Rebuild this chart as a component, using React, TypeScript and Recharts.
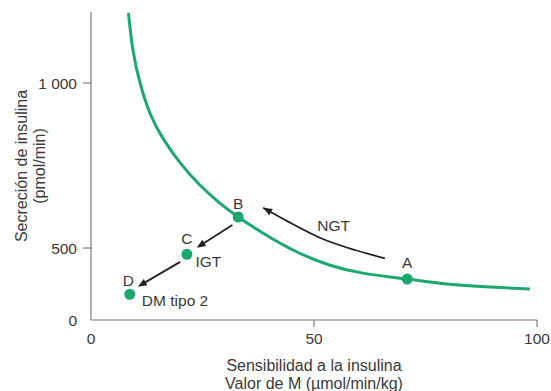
import React from 'react';
import {
  ComposedChart,
  Line,
  Scatter,
  XAxis,
  YAxis,
  ReferenceLine,
} from 'recharts';

// ---- data ----
const xTicks = [0, 50, 100];
const yTickValues = [282, 500, 1000];
const yTickLabels = ['0', '500', '1 000'];

const curveX = [8.4, 9.4, 11.0, 13.2, 16.1, 20.0, 24.4, 28.9, 33.0, 38.6, 46.2, 53.6, 61.0, 70.9, 79.8, 89.5, 98.4];
const curveY = [1212, 1100, 1000, 909, 833, 758, 691, 636, 594, 545, 488, 448, 424, 406, 391, 382, 376];

const pointNames = ['A', 'B', 'C', 'D'];
const pointX = [70.9, 33.0, 21.5, 8.7];
const pointY = [406, 594, 481, 360];

const ngtX = [38.6, 44.2, 51.7, 59.2, 65.9];
const ngtY = [622, 580, 529, 494, 469];

const arrowFromX = [31.7, 20.0];
const arrowFromY = [570, 458];
const arrowToX = [23.7, 10.5];
const arrowToY = [501, 383];

const labelTexts = ['A', 'B', 'C', 'D', 'NGT', 'IGT', 'DM tipo 2'];
const labelX = [70.9, 33.0, 21.5, 8.4, 54.4, 26.3, 11.4];
const labelY = [455, 636, 529, 403, 567, 459, 342];
const labelAnchor = ['middle', 'middle', 'middle', 'middle', 'middle', 'middle', 'start'];

// ---- derived tables ----
const curveData = curveX.map((x, i) => ({ x, y: curveY[i] }));
const pointData = pointX.map((x, i) => ({ x, y: pointY[i], name: pointNames[i] }));
const ngtData = ngtX.map((x, i) => ({ x, y: ngtY[i] }));
const labelData = labelX.map((x, i) => ({ x, y: labelY[i], text: labelTexts[i], anchor: labelAnchor[i] }));

const GREEN = '#1aa86f';
const TEXT = '#3a3a3a';
const AXIS = '#7a7a7a';
const ARROW = '#222222';
const FONT = '"Liberation Sans", Arial, Helvetica, sans-serif';

const arrowHead = (x1: number, y1: number, x2: number, y2: number) => {
  const dx = x2 - x1;
  const dy = y2 - y1;
  const len = Math.sqrt(dx * dx + dy * dy) || 1;
  const ux = dx / len;
  const uy = dy / len;
  const L = 9;
  const W = 3.6;
  const bx = x2 - ux * L;
  const by = y2 - uy * L;
  return `${x2},${y2} ${bx - uy * W},${by + ux * W} ${bx + uy * W},${by - ux * W}`;
};

const ArrowShape = (props: any) => {
  const { x1, y1, x2, y2 } = props;
  const dx = x2 - x1;
  const dy = y2 - y1;
  const len = Math.sqrt(dx * dx + dy * dy) || 1;
  const ex = x2 - (dx / len) * 6;
  const ey = y2 - (dy / len) * 6;
  return (
    <g>
      <line x1={x1} y1={y1} x2={ex} y2={ey} stroke={ARROW} strokeWidth={1.8} />
      <polygon points={arrowHead(x1, y1, x2, y2)} fill={ARROW} />
    </g>
  );
};

const HeadOnly = (props: any) => {
  const { x1, y1, x2, y2 } = props;
  return <polygon points={arrowHead(x1, y1, x2, y2)} fill={ARROW} />;
};

const YTick = (props: any) => {
  const { x, y, payload, index } = props;
  const isZero = payload.value === yTickValues[0];
  return (
    <g>
      {!isZero && <line x1={x + 6} y1={y} x2={x + 14} y2={y} stroke={AXIS} strokeWidth={1.2} />}
      <text x={x} y={y} dy="0.36em" textAnchor="end" fill={TEXT} fontSize={15.5} fontFamily={FONT}>
        {yTickLabels[yTickValues.indexOf(payload.value)] ?? String(index)}
      </text>
    </g>
  );
};

const XTick = (props: any) => {
  const { x, y, payload } = props;
  const isZero = payload.value === xTicks[0];
  return (
    <g>
      {!isZero && <line x1={x} y1={y - 9} x2={x} y2={y - 2} stroke={AXIS} strokeWidth={1.2} />}
      <text x={x} y={y} dy="0.95em" textAnchor="middle" fill={TEXT} fontSize={15.5} fontFamily={FONT}>
        {payload.value}
      </text>
    </g>
  );
};

const XTitle = (props: any) => {
  const { viewBox } = props;
  const cx = viewBox.x + viewBox.width / 2;
  return (
    <text textAnchor="middle" fill={TEXT} fontSize={16} fontFamily={FONT}>
      <tspan x={cx} y={371}>Sensibilidad a la insulina</tspan>
      <tspan x={cx} y={389}>Valor de M (µmol/min/kg)</tspan>
    </text>
  );
};

const YTitle = (props: any) => {
  const { viewBox } = props;
  const cy = viewBox.y + viewBox.height / 2;
  return (
    <g>
      <text transform={`translate(27, ${cy}) rotate(-90)`} textAnchor="middle" fill={TEXT} fontSize={16} fontFamily={FONT}>
        Secreción de insulina
      </text>
      <text transform={`translate(45, ${cy}) rotate(-90)`} textAnchor="middle" fill={TEXT} fontSize={16} fontFamily={FONT}>
        (pmol/min)
      </text>
    </g>
  );
};

const PointShape = (props: any) => {
  const { cx, cy } = props;
  return <circle cx={cx} cy={cy} r={5.5} fill={GREEN} />;
};

const LabelShape = (props: any) => {
  const { cx, cy, payload } = props;
  return (
    <text x={cx} y={cy} dy="0.36em" textAnchor={payload.anchor} fill={TEXT} fontSize={15.5} fontFamily={FONT}>
      {payload.text}
    </text>
  );
};

export default function App() {
  return (
    <div style={{ position: 'absolute', left: 0, top: 0, width: 551, height: 391, background: '#fff' }}>
      <ComposedChart width={551} height={391} margin={{ top: 12, right: 14, bottom: 41, left: 31 }}>
        <XAxis
          type="number"
          dataKey="x"
          domain={[0, 100]}
          ticks={xTicks}
          interval={0}
          allowDataOverflow
          stroke={AXIS}
          axisLine={{ stroke: AXIS, strokeWidth: 1.2 }}
          tickLine={false}
          tickSize={9}
          tickMargin={0}
          height={30}
          tick={<XTick />}
          label={<XTitle />}
        />
        <YAxis
          type="number"
          dataKey="y"
          domain={[282, 1215]}
          ticks={yTickValues}
          interval={0}
          allowDataOverflow
          axisLine={{ stroke: AXIS, strokeWidth: 1.2 }}
          tickLine={false}
          tickSize={8}
          tickMargin={6}
          width={60}
          tick={<YTick />}
          label={<YTitle />}
        />
        <Line
          data={curveData}
          dataKey="y"
          type="natural"
          stroke={GREEN}
          strokeWidth={3}
          dot={false}
          activeDot={false}
          isAnimationActive={false}
        />
        <Line
          data={ngtData}
          dataKey="y"
          type="monotone"
          stroke={ARROW}
          strokeWidth={1.8}
          dot={false}
          activeDot={false}
          isAnimationActive={false}
        />
        <ReferenceLine
          segment={[{ x: ngtX[1], y: ngtY[1] }, { x: ngtX[0], y: ngtY[0] }]}
          shape={<HeadOnly />}
          ifOverflow="visible"
        />
        {arrowFromX.map((fx, i) => (
          <ReferenceLine
            key={i}
            segment={[{ x: fx, y: arrowFromY[i] }, { x: arrowToX[i], y: arrowToY[i] }]}
            shape={<ArrowShape />}
            ifOverflow="visible"
          />
        ))}
        <Scatter data={pointData} dataKey="y" shape={<PointShape />} isAnimationActive={false} />
        <Scatter data={labelData} dataKey="y" shape={<LabelShape />} isAnimationActive={false} />
      </ComposedChart>
    </div>
  );
}
